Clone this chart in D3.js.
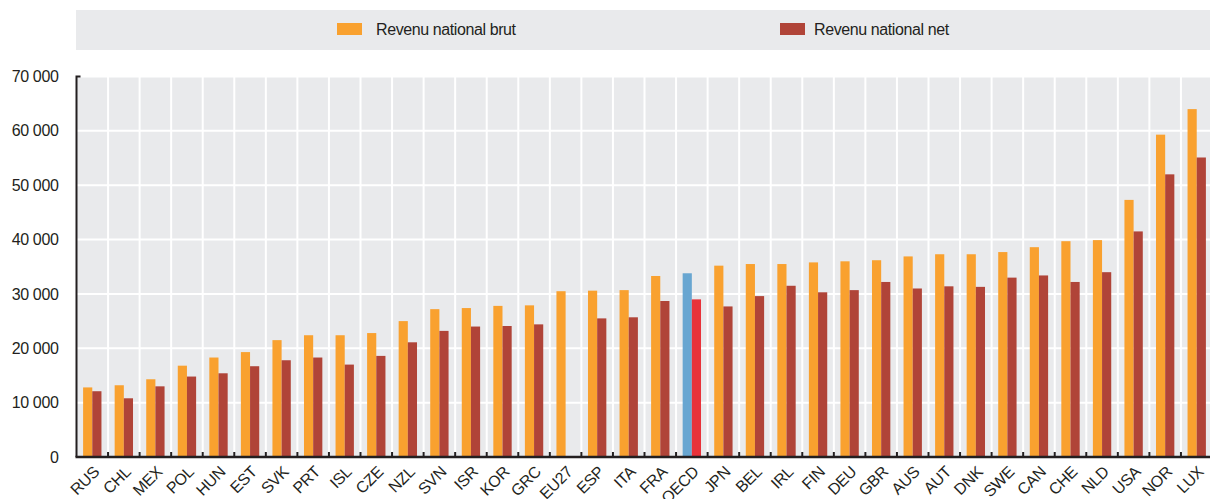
<!DOCTYPE html>
<html>
<head>
    <title>Revenu national brut et net</title>
    <script src="https://d3js.org/d3.v7.min.js"></script>
    <style>
        body { margin: 0; background: #fff; }
        text { font-family: "Liberation Sans Narrow", "Arial Narrow", "Liberation Sans", Arial, sans-serif; fill: #231f20; }
        .tick-label { font-size: 16px; letter-spacing: -0.35px; }
        .legend-label { font-size: 16px; letter-spacing: -0.4px; }
    </style>
</head>
<body>
    <div id="chart"></div>
    <script>
	const countries = ['RUS', 'CHL', 'MEX', 'POL', 'HUN', 'EST', 'SVK', 'PRT', 'ISL', 'CZE', 'NZL', 'SVN', 'ISR', 'KOR', 'GRC', 'EU27', 'ESP', 'ITA', 'FRA', 'OECD', 'JPN', 'BEL', 'IRL', 'FIN', 'DEU', 'GBR', 'AUS', 'AUT', 'DNK', 'SWE', 'CAN', 'CHE', 'NLD', 'USA', 'NOR', 'LUX'];
	const gross = [12800, 13200, 14300, 16800, 18300, 19300, 21500, 22400, 22400, 22800, 25000, 27200, 27400, 27800, 27900, 30500, 30600, 30700, 33300, 33800, 35200, 35500, 35500, 35800, 36000, 36200, 36900, 37300, 37300, 37700, 38600, 39700, 39900, 47300, 59300, 64000];
	const net = [12100, 10800, 13000, 14800, 15400, 16700, 17800, 18300, 17000, 18600, 21100, 23200, 24000, 24100, 24400, null, 25500, 25700, 28700, 29000, 27700, 29600, 31500, 30300, 30700, 32200, 31000, 31400, 31300, 33000, 33400, 32200, 34000, 41500, 52000, 55100];
	const yTicks = [0, 10000, 20000, 30000, 40000, 50000, 60000, 70000];
	const seriesNames = ['Revenu national brut', 'Revenu national net'];
	const highlight = 'OECD';

	const colors = { brut: '#f9a12f', net: '#b04438', brutHi: '#68a6d1', netHi: '#e8323a' };
	const W = 1210, H = 499;
	const plot = { left: 76.5, right: 1212.5, top: 76.5, bottom: 457 };

	const svg = d3.select('#chart').append('svg')
	    .attr('width', W)
	    .attr('height', H);

	const x0 = d3.scaleBand()
	    .domain(countries)
	    .range([plot.left, plot.right])
	    .padding(0);

	const x1 = d3.scaleBand()
	    .domain(['brut', 'net'])
	    .range([0, x0.bandwidth()])
	    .paddingInner(0)
	    .paddingOuter(0.72);

	const y = d3.scaleLinear()
	    .domain([0, 70000])
	    .range([plot.bottom, plot.top]);

	const fmt = d => d3.format(',')(d).replace(/,/g, ' ');

	// legend band
	svg.append('rect')
	    .attr('x', 76).attr('y', 10)
	    .attr('width', W - 76).attr('height', 40)
	    .attr('fill', '#e9eaec');

	const legend = [
	    { name: seriesNames[0], color: colors.brut, x: 337, tx: 376 },
	    { name: seriesNames[1], color: colors.net, x: 780, tx: 814 }
	];
	legend.forEach(l => {
	    svg.append('rect')
	        .attr('x', l.x).attr('y', 23)
	        .attr('width', 25).attr('height', 12)
	        .attr('fill', l.color);
	    svg.append('text')
	        .attr('class', 'legend-label')
	        .attr('x', l.tx).attr('y', 29)
	        .attr('dy', '0.35em')
	        .text(l.name);
	});

	// plot background
	svg.append('rect')
	    .attr('x', plot.left).attr('y', plot.top)
	    .attr('width', plot.right - plot.left).attr('height', plot.bottom - plot.top)
	    .attr('fill', '#e9eaec');

	// grid
	svg.append('g')
	    .selectAll('line')
	    .data(yTicks.slice(1))
	    .enter().append('line')
	        .attr('x1', plot.left).attr('x2', plot.right)
	        .attr('y1', d => y(d)).attr('y2', d => y(d))
	        .attr('stroke', '#fff').attr('stroke-width', 2);

	svg.append('g')
	    .selectAll('line')
	    .data(countries.slice(1))
	    .enter().append('line')
	        .attr('x1', d => x0(d)).attr('x2', d => x0(d))
	        .attr('y1', plot.top).attr('y2', plot.bottom)
	        .attr('stroke', '#fff').attr('stroke-width', 2);

	// bars
	const groups = svg.append('g')
	    .selectAll('g')
	    .data(countries)
	    .enter().append('g')
	        .attr('transform', d => `translate(${x0(d)},0)`);

	groups.selectAll('rect')
	    .data((d, i) => [
	        { key: 'brut', value: gross[i], hi: d === highlight },
	        { key: 'net', value: net[i], hi: d === highlight }
	    ].filter(b => b.value != null))
	    .enter().append('rect')
	        .attr('x', d => x1(d.key))
	        .attr('y', d => y(d.value))
	        .attr('width', x1.bandwidth())
	        .attr('height', d => y(0) - y(d.value))
	        .attr('fill', d => d.hi ? colors[d.key + 'Hi'] : colors[d.key]);

	// y axis
	const yAxis = d3.axisLeft(y)
	    .tickValues(yTicks)
	    .tickFormat(fmt)
	    .tickSize(0)
	    .tickPadding(18);

	const gy = svg.append('g')
	    .attr('transform', `translate(${plot.left},0)`)
	    .call(yAxis);
	gy.select('.domain').remove();
	gy.selectAll('text').attr('class', 'tick-label');

	svg.append('path')
	    .attr('d', `M${plot.left + 4},${plot.top} H${plot.left} V${plot.bottom}`)
	    .attr('fill', 'none')
	    .attr('stroke', '#231f20')
	    .attr('stroke-width', 2);

	// x axis
	svg.append('line')
	    .attr('x1', plot.left - 1).attr('x2', W)
	    .attr('y1', plot.bottom).attr('y2', plot.bottom)
	    .attr('stroke', '#231f20').attr('stroke-width', 2.5);

	svg.append('g')
	    .selectAll('line')
	    .data(countries.slice(1))
	    .enter().append('line')
	        .attr('x1', d => x0(d)).attr('x2', d => x0(d))
	        .attr('y1', plot.bottom - 5).attr('y2', plot.bottom)
	        .attr('stroke', '#231f20').attr('stroke-width', 2);

	svg.append('g')
	    .selectAll('text')
	    .data(countries)
	    .enter().append('text')
	        .attr('class', 'tick-label')
	        .attr('text-anchor', 'end')
	        .attr('transform', d => `translate(${x0(d) + x0.bandwidth() / 2},${plot.bottom + 8}) rotate(-45)`)
	        .attr('dy', '0.7em')
	        .text(d => d);
	</script>
</body>
</html>
